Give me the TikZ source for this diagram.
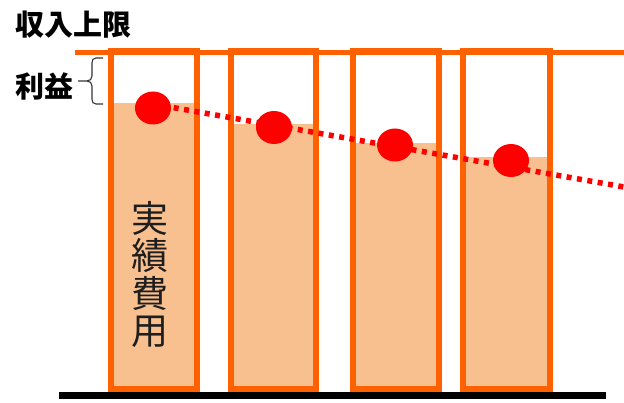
\documentclass[tikz,border=0pt]{standalone}
\usepackage{fontspec}
\usetikzlibrary{shapes.geometric}
\newfontfamily\cjk{Noto Sans CJK JP}
\definecolor{boxorange}{HTML}{FF6000}
\definecolor{peach}{HTML}{F8C08F}
\definecolor{dotred}{HTML}{FF0000}
\definecolor{inkgray}{HTML}{1E1E1E}
\tikzset{
  bar/.style={draw=boxorange, line width=6pt},
  costfill/.style={fill=peach, draw=none},
  rdot/.style={fill=dotred, draw=none, ellipse, minimum width=36pt, minimum height=33pt, inner sep=0pt},
  trend/.style={draw=dotred, line width=5.5pt, dash pattern=on 5pt off 5.5pt},
  lbl/.style={font=\cjk\bfseries\fontsize{29}{32}\selectfont, text=black, inner sep=0pt, anchor=west},
}
\begin{document}
\begin{tikzpicture}[x=1pt,y=-1pt]
\useasboundingbox (0,0) rectangle (624,403);
% fills
\fill[costfill] (111,103) rectangle (197,389);
\fill[costfill] (231,124) rectangle (316,389);
\fill[costfill] (353,143) rectangle (439,389);
\fill[costfill] (463,157) rectangle (550,389);
% top line
\coordinate (tl) at (75,52.5);
\coordinate (tr) at (624,52.5);
\draw[bar, line width=5.5pt] (tl) -- (tr);
% boxes
\draw[bar] (111,51) rectangle (197,389);
\draw[bar] (231,51) rectangle (316,389);
\draw[bar] (353,51) rectangle (439,389);
\draw[bar] (463,51) rectangle (550,389);
% base line
\coordinate (bl) at (59,395.5);
\coordinate (br) at (606,395.5);
\draw[black, line width=7pt] (bl) -- (br);
% trend and dots
\coordinate (tstart) at (153,104);
\coordinate (tend) at (624,187);
\draw[trend] (tstart) -- (tend);
\node[rdot] (d1) at (153,108) {};
\node[rdot] (d2) at (274,127.5) {};
\node[rdot] (d3) at (395,145) {};
\node[rdot] (d4) at (511,160.5) {};
% labels
\node[lbl] (limit) at (15,25) {収入上限};
\node[lbl] (profit) at (15,86.5) {利益};
\node[inner sep=0pt, align=center, text=inkgray, font=\cjk\fontsize{37}{37.5}\selectfont] (cost) at (150,274.5) {実\\績\\費\\用};
% brace
\coordinate (bt) at (103,58);
\coordinate (bb) at (103,104);
\coordinate (btip) at (78,81);
\draw[black!80, line width=1.1pt] (bt) -- (96,58) .. controls (93,58) and (92,60) .. (92,63) -- (92,76) .. controls (92,79) and (90,81) .. (87,81) -- (btip);
\draw[black!80, line width=1.1pt] (bb) -- (96,104) .. controls (93,104) and (92,102) .. (92,99) -- (92,86) .. controls (92,83) and (90,81) .. (87,81);
\end{tikzpicture}
\end{document}
